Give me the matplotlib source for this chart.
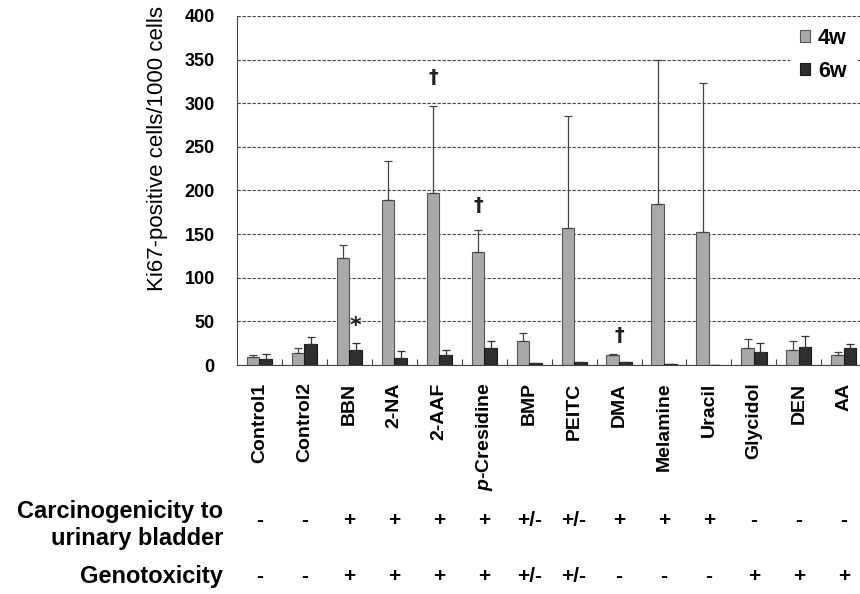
import matplotlib.pyplot as plt
import numpy as np

plt.rcParams['font.family'] = ['Liberation Sans', 'DejaVu Sans']
plt.rcParams['mathtext.fontset'] = 'custom'
plt.rcParams['mathtext.it'] = 'Liberation Sans:italic:bold'
plt.rcParams['mathtext.rm'] = 'Liberation Sans:bold'

categories = ['Control1', 'Control2', 'BBN', '2-NA', '2-AAF', r'$p$-Cresidine', 'BMP',
              'PEITC', 'DMA', 'Melamine', 'Uracil', 'Glycidol', 'DEN', 'AA']
w4 = [9, 14, 123, 189, 197, 130, 28, 157, 12, 184, 153, 19, 17, 11]
w4_err = [3, 5, 14, 45, 100, 25, 9, 128, 1, 165, 170, 11, 11, 4]
w6 = [7, 24, 17, 8, 12, 19, 2, 4, 4, 1, 0, 15, 21, 19]
w6_err = [6, 8, 8, 8, 5, 9, 0, 0, 0, 0, 0, 10, 12, 5]
carcinogenicity = ['-', '-', '+', '+', '+', '+', '+/-', '+/-', '+', '+', '+', '-', '-', '-']
genotoxicity = ['-', '-', '+', '+', '+', '+', '+/-', '+/-', '-', '-', '-', '+', '+', '+']
# (series, category index, value, symbol)
marks = [('6w', 2, 45, '*'), ('4w', 4, 330, '†'), ('4w', 5, 183, '†'), ('mid', 8, 34, '†')]

fig = plt.figure(figsize=(8.6, 5.94), dpi=100)
ax = fig.add_axes([237/860, (594-365)/594, 1 - 237/860, (365-16)/594])

x = np.arange(len(categories))
bw = 0.28
ax.bar(x - bw/2, w4, bw, color='#a9a9a9', edgecolor='#555555', linewidth=0.8, label='4w', zorder=3)
ax.bar(x + bw/2, w6, bw, color='#2f2f2f', edgecolor='#1a1a1a', linewidth=0.8, label='6w', zorder=3)
ax.errorbar(x - bw/2, w4, yerr=[np.zeros(len(x)), w4_err], fmt='none', ecolor='#444444',
            elinewidth=0.9, capsize=3, capthick=0.9, zorder=4)
ax.errorbar(x + bw/2, w6, yerr=[np.zeros(len(x)), w6_err], fmt='none', ecolor='#333333',
            elinewidth=0.9, capsize=3, capthick=0.9, zorder=4)

for ser, i, v, s in marks:
    off = {'4w': -bw/2, '6w': bw/2, 'mid': 0}[ser]
    ax.text(i + off, v, s, ha='center', va='center', fontsize=16 if s == '*' else 14,
            fontweight='bold', color='#222222', family=['DejaVu Sans'], zorder=5)

ax.set_xlim(-0.5, 13.36)
ax.set_ylim(0, 400)
ax.set_yticks(np.arange(0, 401, 50))
ax.yaxis.grid(True, linestyle=(0, (3, 1.5)), color='#444444', linewidth=0.8, zorder=0)
ax.set_axisbelow(True)
ax.set_xticks(x[:-1] + 0.5, minor=False)
ax.set_xticklabels([])
ax.tick_params(axis='x', direction='in', length=4, color='#444444')
ax.tick_params(axis='y', length=0, labelsize=13, pad=16)
for lbl in ax.get_yticklabels():
    lbl.set_fontweight('bold')
for sp in ['top', 'right']:
    ax.spines[sp].set_visible(False)
ax.spines['left'].set_color('#444444')
ax.spines['bottom'].set_color('#444444')

trans = ax.get_xaxis_transform()
for i, c in enumerate(categories):
    ax.text(i, -0.05, c, transform=trans, rotation=90, ha='center', va='top',
            fontsize=14, fontweight='bold')

ax.set_ylabel('Ki67-positive cells/1000 cells', fontsize=16)
ax.yaxis.set_label_coords(-0.11, 0.62)

leg = ax.legend(loc='upper left', bbox_to_anchor=(0.8876, 0.994), frameon=True,
                prop={'weight': 'bold', 'size': 15.5}, handlelength=0.5, handleheight=0.5,
                handletextpad=0.35, labelspacing=0.55, borderpad=0.45, borderaxespad=0)
leg.get_frame().set_edgecolor('white')
leg.get_frame().set_alpha(1)

tr = fig.transFigure
bt = ax.transData + tr.inverted()
for i in range(len(categories)):
    fx = bt.transform((i, 0))[0]
    fig.text(fx, (594-521)/594, carcinogenicity[i], ha='center', va='center',
             fontsize=15, fontweight='bold')
    fig.text(fx, (594-577)/594, genotoxicity[i], ha='center', va='center',
             fontsize=15, fontweight='bold')

fig.text(223/860, (594-525)/594, 'Carcinogenicity to\nurinary bladder', ha='right', va='center',
         fontsize=17, fontweight='bold', linespacing=1.2)
fig.text(223/860, (594-577)/594, 'Genotoxicity', ha='right', va='center',
         fontsize=17, fontweight='bold')

fig.savefig('out.png', dpi=100)
